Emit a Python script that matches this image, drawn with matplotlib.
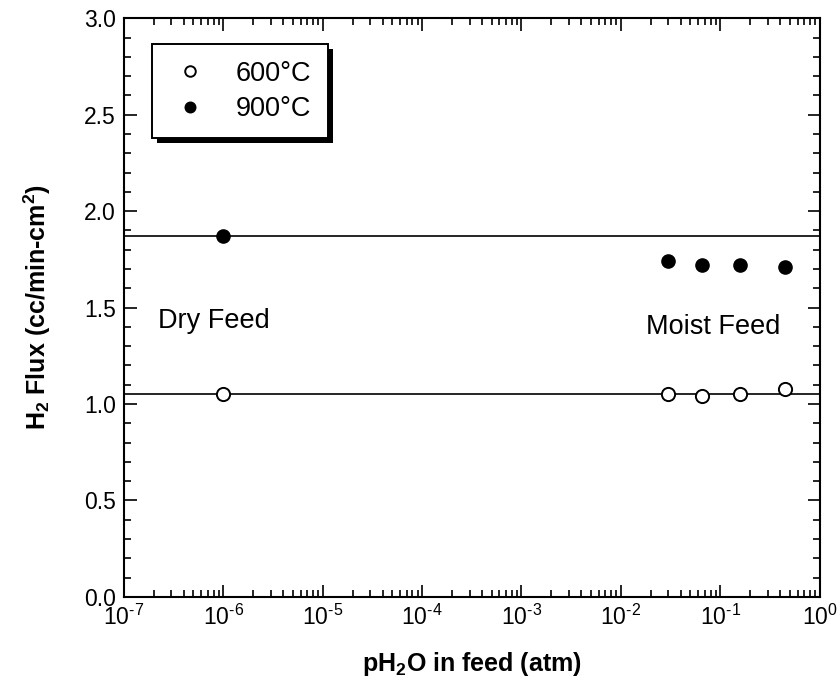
import matplotlib
matplotlib.use("Agg")
import matplotlib.pyplot as plt
from matplotlib.patches import Rectangle
from matplotlib.ticker import LogLocator, MultipleLocator, NullFormatter, FuncFormatter
import numpy as np

plt.rcParams["font.family"] = ["Liberation Sans", "DejaVu Sans"]
plt.rcParams["mathtext.fontset"] = "custom"
plt.rcParams["mathtext.rm"] = "Liberation Sans"
plt.rcParams["mathtext.bf"] = "Liberation Sans:bold"
plt.rcParams["mathtext.default"] = "regular"

# data
x_dry = [1e-6]
x_moist = [0.03, 0.065, 0.16, 0.45]
flux_600 = [1.05, 1.05, 1.04, 1.05, 1.08]
flux_900 = [1.87, 1.74, 1.72, 1.72, 1.71]
level_600 = 1.05
level_900 = 1.87
labels = ["600°C", "900°C"]

x_all = x_dry + x_moist

fig = plt.figure(figsize=(8.38, 6.79), dpi=100)
ax = fig.add_axes([0.148, 0.121, 0.830, 0.852])

ax.axhline(level_900, color="black", lw=1.2, zorder=1)
ax.axhline(level_600, color="black", lw=1.2, zorder=1)

ax.plot(x_all, flux_600, "o", ls="none", mfc="white", mec="black", mew=1.4,
        ms=9.5, label=labels[0], zorder=3)
ax.plot(x_all, flux_900, "o", ls="none", mfc="black", mec="black",
        ms=9.5, label=labels[1], zorder=3)

ax.set_xscale("log")
ax.set_xlim(1e-7, 1)
ax.set_ylim(0, 3.0)
ax.xaxis.set_major_locator(LogLocator(base=10, numticks=10))
ax.xaxis.set_minor_locator(LogLocator(base=10, subs=range(2, 10), numticks=100))
ax.xaxis.set_minor_formatter(NullFormatter())
ax.xaxis.set_major_formatter(
    FuncFormatter(lambda v, p: "10$^{\\text{%s}}$" % str(int(round(np.log10(v))))))
ax.yaxis.set_major_locator(MultipleLocator(0.5))
ax.yaxis.set_minor_locator(MultipleLocator(0.1))
ax.yaxis.set_major_formatter(FuncFormatter(lambda v, p: f"{v:.1f}"))

ax.tick_params(which="both", direction="in", top=True, right=True, width=1.2)
ax.tick_params(which="major", length=9, labelsize=16.5, pad=6)
ax.tick_params(which="minor", length=5)
for s in ax.spines.values():
    s.set_linewidth(1.5)

ax.text(2.2e-7, 1.43, "Dry Feed", fontsize=19.5, va="center")
ax.text(0.018, 1.40, "Moist Feed", fontsize=19.5, va="center")

ax.set_xlabel("pH$_2$O in feed (atm)", fontsize=18, fontweight="bold", labelpad=14)
ax.set_ylabel("H$_2$ Flux (cc/min-cm$^2$)", fontsize=18, fontweight="bold", labelpad=22)

leg = ax.legend(loc="upper left", bbox_to_anchor=(0.04, 0.955), fontsize=19.5,
                frameon=True, fancybox=False, framealpha=1,
                edgecolor="black", handletextpad=0.9, borderpad=0.6,
                labelspacing=0.35, handlelength=1.6, markerscale=0.8,
                borderaxespad=0)
leg.get_frame().set_linewidth(1.4)
leg.set_zorder(5)

# hard black drop shadow behind the legend box
fig.canvas.draw()
bb = leg.get_frame().get_window_extent().transformed(fig.transFigure.inverted())
dx, dy = 5 / 838, 5 / 679
shadow = Rectangle((bb.x0 + dx, bb.y0 - dy), bb.width, bb.height,
                   transform=fig.transFigure, facecolor="black",
                   edgecolor="none", zorder=4.5, clip_on=False)
ax.add_artist(shadow)

plt.savefig("out.png", dpi=100)
